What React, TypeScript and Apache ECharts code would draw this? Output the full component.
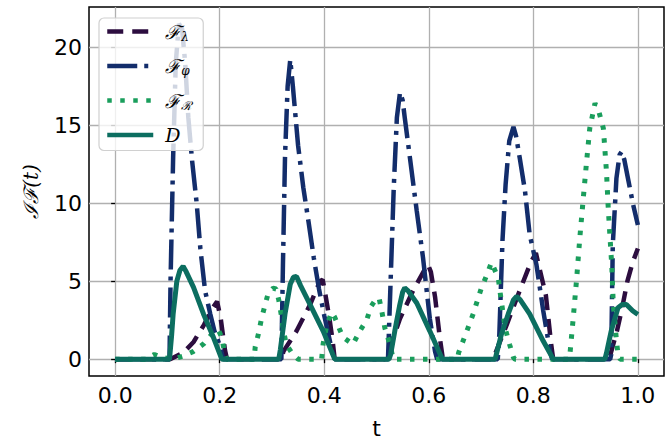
import React, { useEffect, useRef } from 'react';
import * as echarts from 'echarts';

const xTicks = [0, 0.2, 0.4, 0.6, 0.8, 1.0];
const yTicks = [0, 5, 10, 15, 20];

const fLambda: [number, number][] = [
  [0, 0], [0.105, 0], [0.13, 0.4], [0.15, 1.1], [0.17, 2.2], [0.185, 3.2], [0.195, 3.7], [0.202, 2.6], [0.21, 0.6], [0.214, 0],
  [0.318, 0], [0.322, 0.5], [0.347, 1.8], [0.373, 3.5], [0.392, 5.0], [0.397, 5.1], [0.402, 4.2], [0.41, 2.6], [0.416, 1.2], [0.42, 0],
  [0.52, 0], [0.523, 0.5], [0.545, 2.6], [0.57, 4.4], [0.598, 6.1], [0.604, 5.6], [0.612, 4.0], [0.621, 1.4], [0.627, 0],
  [0.723, 0], [0.749, 2.2], [0.774, 4.4], [0.795, 6.2], [0.805, 6.8], [0.812, 5.8], [0.824, 4.1], [0.834, 1.0], [0.838, 0],
  [0.945, 0], [0.96, 1.8], [0.97, 3.3], [0.98, 5.0], [0.99, 6.2], [1.0, 7.1],
];

const fPhi: [number, number][] = [
  [0, 0], [0.104, 0], [0.106, 5], [0.111, 13], [0.116, 19], [0.122, 21.5], [0.128, 21.2], [0.134, 19], [0.14, 15.5], [0.147, 12.8],
  [0.156, 10], [0.163, 7.1], [0.172, 4.4], [0.182, 2.9], [0.19, 1.8], [0.2, 0.9], [0.207, 0],
  [0.318, 0], [0.321, 6], [0.325, 13], [0.33, 17.5], [0.335, 19.2], [0.34, 17.5], [0.35, 13.7], [0.36, 11], [0.37, 8.8],
  [0.38, 6.5], [0.39, 4.5], [0.4, 2.8], [0.41, 1.3], [0.418, 0],
  [0.522, 0], [0.527, 5], [0.533, 11], [0.539, 15.5], [0.545, 17.1], [0.55, 16.6], [0.554, 15.5], [0.564, 12.9], [0.577, 9.5],
  [0.589, 6.5], [0.602, 2.6], [0.612, 0.5], [0.616, 0],
  [0.732, 0], [0.735, 1.6], [0.741, 7.6], [0.747, 11.2], [0.754, 14.0], [0.762, 14.9], [0.767, 14.3], [0.774, 12.9], [0.784, 10.8],
  [0.793, 8.0], [0.806, 6.05], [0.819, 3.1], [0.832, 0.5], [0.836, 0],
  [0.947, 0], [0.949, 0.3], [0.952, 7.3], [0.959, 11.6], [0.965, 13.1], [0.969, 13.3], [0.974, 12.8], [0.981, 11.6], [0.991, 9.9], [1.0, 8.6],
];

const fR: [number, number][] = [
  [0, 0], [0.06, 0], [0.075, 0.3], [0.09, 0.1], [0.11, 0], [0.13, 0.2], [0.15, 0.5], [0.17, 1.0], [0.185, 1.6], [0.197, 1.9], [0.204, 1.4], [0.21, 0.3], [0.213, 0],
  [0.266, 0], [0.268, 0.8], [0.274, 1.6], [0.28, 2.6], [0.287, 3.5], [0.293, 4.25], [0.302, 4.55], [0.308, 4.5], [0.313, 3.8], [0.318, 2.8],
  [0.322, 1.8], [0.328, 0.9], [0.34, 0.3], [0.35, 0],
  [0.395, 0], [0.398, 1.0], [0.405, 2.2], [0.414, 3.0], [0.42, 2.7], [0.427, 2.1], [0.436, 1.4], [0.455, 0.95], [0.468, 1.8], [0.481, 2.5],
  [0.49, 3.4], [0.5, 3.9], [0.505, 3.9], [0.51, 3.1], [0.516, 2.0], [0.526, 0.9], [0.532, 0],
  [0.655, 0], [0.657, 0.4], [0.666, 1.2], [0.675, 2.0], [0.685, 2.9], [0.7, 4.5], [0.711, 5.4], [0.72, 6.2], [0.733, 5.2], [0.736, 4.4],
  [0.746, 2.0], [0.755, 0.9], [0.762, 0.1], [0.765, 0],
  [0.868, 0], [0.87, 0.3], [0.876, 2.5], [0.883, 5.2], [0.889, 7.8], [0.895, 10.1], [0.902, 12.7], [0.908, 14.8], [0.918, 16.4], [0.926, 15.8],
  [0.934, 14.8], [0.94, 12], [0.943, 9.9], [0.946, 8.2], [0.95, 6.05], [0.953, 3.5], [0.959, 1.2], [0.962, 0.3], [0.966, 0], [1.0, 0],
];

const dCurve: [number, number][] = [
  [0, 0], [0.104, 0], [0.108, 1.5], [0.111, 2.9], [0.118, 5.0], [0.124, 5.7], [0.13, 5.95], [0.136, 5.6], [0.15, 4.6], [0.169, 2.9], [0.188, 1.4], [0.204, 0],
  [0.313, 0], [0.316, 0.6], [0.325, 2.9], [0.335, 4.8], [0.341, 5.25], [0.347, 5.3], [0.355, 4.7], [0.373, 3.5], [0.398, 1.8], [0.42, 0],
  [0.524, 0], [0.527, 0.3], [0.535, 1.8], [0.544, 3.4], [0.55, 4.3], [0.554, 4.57], [0.56, 4.4], [0.577, 3.6], [0.602, 1.8], [0.626, 0],
  [0.727, 0], [0.73, 0.4], [0.739, 1.6], [0.752, 2.9], [0.762, 3.8], [0.768, 4.03], [0.775, 3.8], [0.793, 2.9], [0.819, 1.16], [0.838, 0],
  [0.937, 0], [0.94, 0.4], [0.949, 1.8], [0.962, 3.3], [0.97, 3.5], [0.978, 3.5], [0.99, 3.1], [1.0, 2.86],
];

const names = ['Fλ', 'Fφ', 'FR', 'D'];
const colors = ['#2c0d3f', '#132d6b', '#1a9e5c', '#0c6e60'];

export default function App() {
  const ref = useRef<HTMLDivElement>(null);
  useEffect(() => {
    const chart = echarts.init(ref.current!, null, { renderer: 'svg' });
    const mkSeries = (name: string, data: [number, number][], color: string, type: any, width: number) => ({
      type: 'line',
      name,
      data,
      symbol: 'none',
      showSymbol: false,
      color,
      itemStyle: { color },
      lineStyle: { color, width, type, cap: 'butt' },
    });
    chart.setOption({
      animation: false,
      grid: {
        left: 89, top: 7, right: 7, bottom: 66, show: true,
        borderColor: '#000', borderWidth: 1.5, backgroundColor: 'transparent',
      },
      xAxis: {
        type: 'value', min: -0.05, max: 1.05,
        name: 't', nameLocation: 'middle', nameGap: 41,
        nameTextStyle: { fontSize: 22, color: '#000', fontFamily: 'DejaVu Sans' },
        axisLine: { show: false },
        axisTick: { show: true, length: 4, lineStyle: { color: '#000', width: 1.3 }, customValues: xTicks },
        axisLabel: { customValues: xTicks, formatter: (v: number) => v.toFixed(1), fontSize: 22, color: '#000', fontFamily: 'DejaVu Sans', margin: 8 },
        splitLine: { show: true, lineStyle: { color: '#b0b0b0', width: 1.3 } },
      },
      yAxis: {
        type: 'value', min: -1.08, max: 22.58,
        name: 'ℐℱ(t)', nameLocation: 'middle', nameGap: 48,
        nameTextStyle: { fontSize: 20, color: '#000', fontFamily: 'DejaVu Serif', fontStyle: 'italic' },
        axisLine: { show: false },
        axisTick: { show: true, length: 4, lineStyle: { color: '#000', width: 1.3 }, customValues: yTicks },
        axisLabel: { customValues: yTicks, fontSize: 22, color: '#000', fontFamily: 'DejaVu Sans', margin: 7 },
        splitLine: { show: true, lineStyle: { color: '#b0b0b0', width: 1.3 } },
      },
      legend: {
        orient: 'vertical', left: 99, top: 18,
        itemWidth: 46, itemHeight: 14, itemGap: 14,
        padding: [4, 12, 6, 6],
        backgroundColor: 'rgba(255,255,255,0.8)',
        borderColor: '#d0d0d0', borderWidth: 1.2, borderRadius: 5,
        itemStyle: { opacity: 0, borderWidth: 0 },
        lineStyle: { width: 4.5 },
        data: names,
        formatter: (n: string) => {
          if (n === 'D') return '{m|D}';
          return '{m|ℱ}{s|' + n.slice(1).replace('R', 'ℛ') + '}';
        },
        textStyle: {
          color: '#000',
          rich: {
            m: { fontSize: 19, fontFamily: 'DejaVu Serif', fontStyle: 'italic', color: '#000', lineHeight: 22, padding: [0, 0, 0, 7] },
            s: { fontSize: 12, fontFamily: 'DejaVu Serif', fontStyle: 'italic', color: '#000', lineHeight: 22, verticalAlign: 'bottom', padding: [8, 0, 0, 0] },
          },
        },
      },
      series: [
        mkSeries(names[0], fLambda, colors[0], [16, 9], 4.5),
        mkSeries(names[1], fPhi, colors[1], [30, 7, 4, 7], 4.5),
        mkSeries(names[2], fR, colors[2], [4.5, 8.5], 5),
        mkSeries(names[3], dCurve, colors[3], 'solid', 5),
      ],
    });
    return () => chart.dispose();
  }, []);
  return <div ref={ref} style={{ position: 'absolute', left: 0, top: 0, width: 671, height: 444 }} />;
}
